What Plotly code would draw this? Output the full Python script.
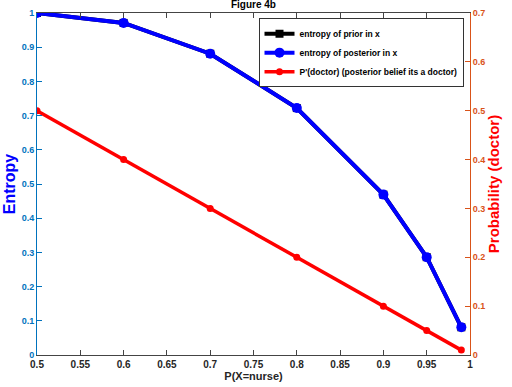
import plotly.graph_objects as go

x_vals = [0.5, 0.6, 0.7, 0.8, 0.9, 0.95, 0.99]
entropy_prior = [1.0, 0.971, 0.881, 0.722, 0.469, 0.286, 0.081]
entropy_post = [1.0, 0.971, 0.881, 0.722, 0.469, 0.286, 0.081]
p_doctor = [0.5, 0.4, 0.3, 0.2, 0.1, 0.05, 0.01]

x_ticks = [0.5, 0.55, 0.6, 0.65, 0.7, 0.75, 0.8, 0.85, 0.9, 0.95, 1.0]
x_ticklabels = ["0.5", "0.55", "0.6", "0.65", "0.7", "0.75", "0.8", "0.85", "0.9", "0.95", "1"]
y_ticks = [0, 0.1, 0.2, 0.3, 0.4, 0.5, 0.6, 0.7, 0.8, 0.9, 1.0]
y_ticklabels = ["0", "0.1", "0.2", "0.3", "0.4", "0.5", "0.6", "0.7", "0.8", "0.9", "1"]
y2_ticks = [0, 0.1, 0.2, 0.3, 0.4, 0.5, 0.6, 0.7]
y2_ticklabels = ["0", "0.1", "0.2", "0.3", "0.4", "0.5", "0.6", "0.7"]

FONT = "Liberation Sans, Arial, sans-serif"
BLUE_AX = "#0072BD"
ORANGE = "#D95319"

fig = go.Figure()
fig.add_trace(go.Scatter(x=x_vals, y=entropy_prior, mode="lines+markers",
                         name="entropy of prior in x",
                         line=dict(color="black", width=4, dash="solid"),
                         marker=dict(symbol="square", size=8, color="black")))
fig.add_trace(go.Scatter(x=x_vals, y=entropy_post, mode="lines+markers",
                         name="entropy of posterior in x",
                         line=dict(color="#0000FF", width=4),
                         marker=dict(symbol="circle", size=10, color="#0000FF")))
fig.add_trace(go.Scatter(x=x_vals, y=p_doctor, mode="lines+markers",
                         name="P'(doctor) (posterior belief its a doctor)",
                         line=dict(color="#FF0000", width=3.5),
                         marker=dict(symbol="circle", size=7, color="#FF0000"),
                         yaxis="y2"))

fig.update_layout(
    width=512, height=387,
    margin=dict(l=37, r=42, t=13, b=32, autoexpand=False),
    paper_bgcolor="white", plot_bgcolor="white",
    font=dict(family=FONT, size=9, color="#262626", weight="bold"),
    title=dict(text="<b>Figure 4b</b>", x=0.495, xanchor="center", y=0.997, yanchor="top",
               font=dict(size=10, color="black"), automargin=False),
    xaxis=dict(range=[0.5, 1.0], tickvals=x_ticks, ticktext=x_ticklabels, automargin=False,
               ticks="inside", ticklen=5, tickcolor="#444", showgrid=False, zeroline=False,
               showline=True, linecolor="#444", linewidth=1, mirror="ticks",
               tickfont=dict(size=10, color="#262626"),
               title=dict(text="P(X=nurse)", font=dict(size=11, color="#262626"), standoff=2)),
    yaxis=dict(range=[0, 1.0], tickvals=y_ticks, ticktext=y_ticklabels, automargin=False,
               ticks="inside", ticklen=5, tickcolor=BLUE_AX, showgrid=False, zeroline=False,
               showline=True, linecolor=BLUE_AX, linewidth=1,
               tickfont=dict(size=9, color=BLUE_AX),
               title=dict(text="Entropy", font=dict(size=16, color="#0000FF"), standoff=2)),
    yaxis2=dict(range=[0, 0.7], tickvals=y2_ticks, ticktext=y2_ticklabels, overlaying="y", side="right",
                automargin=False,
                ticks="inside", ticklen=5, tickcolor=ORANGE, showgrid=False, zeroline=False,
                showline=True, linecolor=ORANGE, linewidth=1,
                tickfont=dict(size=9, color=ORANGE),
                title=dict(text="Probability (doctor)", font=dict(size=15, color="#FF0000"), standoff=4)),
    legend=dict(x=0.985, y=0.985, xanchor="right", yanchor="top",
                bgcolor="white", bordercolor="#333", borderwidth=1,
                font=dict(size=8.5, color="black"), tracegroupgap=0, itemwidth=30),
    showlegend=True,
)

fig.write_html("out.html", config={"displayModeBar": False},
               post_script="document.body.style.margin='0';document.body.style.padding='0';")
